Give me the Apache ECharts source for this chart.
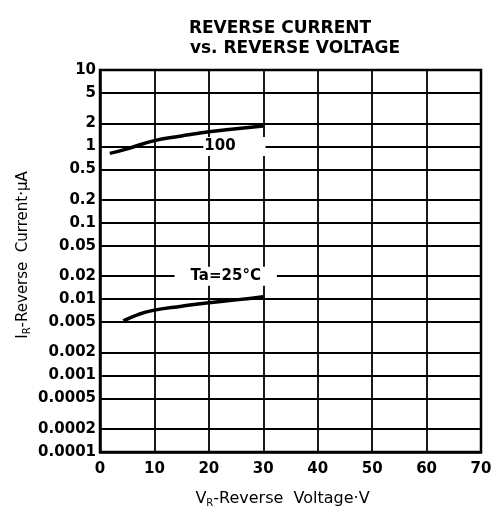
<!DOCTYPE html>
<html>
<head>
<meta charset="utf-8">
<script src="https://cdn.jsdelivr.net/npm/echarts@6/dist/echarts.min.js"></script>
<style>
  html, body { margin: 0; padding: 0; background: #fff; }
  #chart { width: 502px; height: 517px; }
</style>
</head>
<body>
<div id="chart"></div>
<script>
// 数据
const voltage100 = [1.8, 5, 10, 15, 20, 25, 30]
const current100 = [0.81, 0.93, 1.19, 1.37, 1.55, 1.7, 1.85]
const voltage25 = [4.3, 7, 10, 15, 20, 25, 30]
const current25 = [0.0052, 0.0063, 0.0072, 0.0081, 0.009, 0.0098, 0.0108]

// 刻度
const decadeTicks = [0.0001, 0.001, 0.01, 0.1, 1, 10]
const decadeLabels = ['0.0001', '0.001', '0.01', '0.1', '1', '10']
const minorTicks = [5, 2, 0.5, 0.2, 0.05, 0.02, 0.005, 0.002, 0.0005, 0.0002]
const minorLabels = ['5', '2', '0.5', '0.2', '0.05', '0.02', '0.005', '0.002', '0.0005', '0.0002']

const tickFont = { fontFamily: 'DejaVu Sans', fontWeight: 'bold', fontSize: 15, color: '#000' }
const gridLine = { color: '#000', width: 1.8, type: 'solid' }

const pairs = (xs, ys) => xs.map((x, i) => [x, ys[i]])

const option = {
  animation: false,
  backgroundColor: '#fff',
  title: [
    {
      text: 'REVERSE CURRENT',
      left: 275,
      top: 15,
      textAlign: 'center',
      textStyle: { fontFamily: 'DejaVu Sans', fontWeight: 'bold', fontSize: 17, color: '#000' }
    },
    {
      text: 'vs. REVERSE VOLTAGE',
      left: 290,
      top: 35,
      textAlign: 'center',
      textStyle: { fontFamily: 'DejaVu Sans', fontWeight: 'bold', fontSize: 17, color: '#000' }
    }
  ],
  grid: {
    left: 100,
    right: 21,
    top: 70,
    bottom: 65,
    show: true,
    borderColor: '#000',
    borderWidth: 2.5
  },
  xAxis: {
    type: 'value',
    min: 0,
    max: 70,
    interval: 10,
    name: '{n|V}{s|R}{n|-Reverse  Voltage·V}',
    nameLocation: 'middle',
    nameGap: 38,
    nameTextStyle: {
      padding: [0, 16, 0, 0],
      rich: {
        n: { fontFamily: 'DejaVu Sans', fontSize: 16, color: '#000' },
        s: { fontFamily: 'DejaVu Sans', fontSize: 10, color: '#000', verticalAlign: 'bottom', padding: [8, 0, 0, 0] }
      }
    },
    axisLine: { lineStyle: { color: '#000', width: 2.5 } },
    axisTick: { show: false },
    axisLabel: Object.assign({ margin: 10 }, tickFont),
    splitLine: { lineStyle: gridLine }
  },
  yAxis: {
    type: 'log',
    logBase: 10,
    min: 0.0001,
    max: 10,
    name: '{n|I}{s|R}{n|-Reverse  Current·μA}',
    nameLocation: 'middle',
    nameGap: 68,
    nameMoveOverlap: false,
    nameTextStyle: {
      padding: [0, 0, 0, 12],
      rich: {
        n: { fontFamily: 'DejaVu Sans', fontSize: 15, color: '#000' },
        s: { fontFamily: 'DejaVu Sans', fontSize: 10, color: '#000', verticalAlign: 'bottom', padding: [8, 0, 0, 0] }
      }
    },
    axisLine: { lineStyle: { color: '#000', width: 2.5 } },
    axisTick: { show: false },
    minorTick: { show: false },
    axisLabel: Object.assign({
      margin: 4,
      formatter: (v) => {
        const i = decadeTicks.findIndex((t) => Math.abs(Math.log10(t) - Math.log10(v)) < 1e-6)
        return i >= 0 ? decadeLabels[i] : ''
      }
    }, tickFont),
    splitLine: { lineStyle: gridLine }
  },
  series: [
    {
      // 1-2-5 辅助网格线
      name: 'grid',
      type: 'line',
      data: [],
      silent: true,
      z: 1,
      markLine: {
        silent: true,
        precision: 8,
        symbol: ['none', 'none'],
        lineStyle: gridLine,
        label: Object.assign({
          position: 'start',
          distance: 4,
          formatter: (p) => minorLabels[p.dataIndex]
        }, tickFont),
        data: minorTicks.map((v) => ({ yAxis: v }))
      }
    },
    {
      name: '100',
      type: 'line',
      smooth: true,
      showSymbol: false,
      z: 3,
      lineStyle: { color: '#000', width: 3.5 },
      data: pairs(voltage100, current100),
      markPoint: {
        symbol: 'rect',
        symbolSize: 1,
        itemStyle: { color: 'rgba(0,0,0,0)' },
        label: {
          show: true,
          position: 'inside',
          fontFamily: 'DejaVu Sans',
          fontWeight: 'bold',
          fontSize: 15,
          color: '#000',
          backgroundColor: '#fff',
          padding: [2, 30, 2, 1],
          formatter: '100'
        },
        data: [{ coord: [24.7, 1] }]
      }
    },
    {
      name: 'Ta=25°C',
      type: 'line',
      smooth: true,
      showSymbol: false,
      z: 3,
      lineStyle: { color: '#000', width: 3.5 },
      data: pairs(voltage25, current25),
      markPoint: {
        symbol: 'rect',
        symbolSize: 1,
        itemStyle: { color: 'rgba(0,0,0,0)' },
        label: {
          show: true,
          position: 'inside',
          fontFamily: 'DejaVu Sans',
          fontWeight: 'bold',
          fontSize: 15,
          color: '#000',
          backgroundColor: '#fff',
          padding: [2, 16, 2, 16],
          formatter: 'Ta=25°C'
        },
        data: [{ coord: [23.1, 0.02] }]
      }
    }
  ]
}

const myChart = echarts.init(document.getElementById('chart'))
option && myChart.setOption(option)
</script>
</body>
</html>
